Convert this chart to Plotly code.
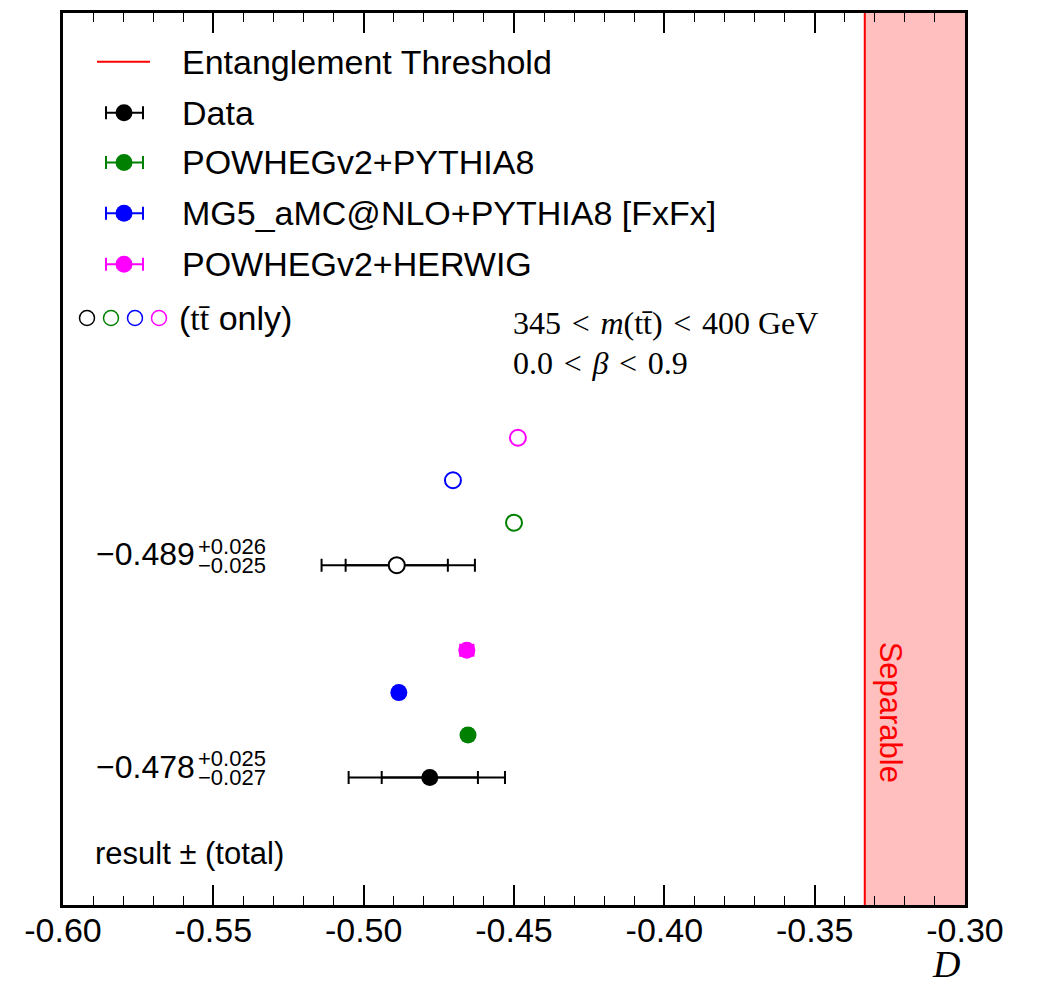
import plotly.graph_objects as go

# ---- values ---------------------------------------------------------------
x_tick_vals = [-0.60, -0.55, -0.50, -0.45, -0.40, -0.35, -0.30]
x_tick_text = ["-0.60", "-0.55", "-0.50", "-0.45", "-0.40", "-0.35", "-0.30"]

entanglement_threshold = -1.0 / 3.0

# measured D: full result and tt-only result
data_full = -0.478
data_full_up, data_full_dn = 0.025, 0.027
data_full_inner = 0.016
data_tt = -0.489
data_tt_up, data_tt_dn = 0.026, 0.025
data_tt_inner = 0.017

mc_names = ["POWHEGv2+PYTHIA8", "MG5_aMC@NLO+PYTHIA8 [FxFx]", "POWHEGv2+HERWIG"]
mc_colors = ["#008000", "#0000FF", "#FF00FF"]
mc_full = [-0.4653, -0.4883, -0.4657]
mc_full_err = [0.0015, 0.0015, 0.0022]
mc_tt = [-0.4500, -0.4703, -0.4487]
mc_tt_err = [0.0015, 0.0015, 0.0015]

# vertical slot of each row (full block below, tt-only block above)
full_slots = [3, 4, 5, 6]
tt_slots = [8, 9, 10, 11]

# ---- geometry helpers -----------------------------------------------------
W, H = 1039, 985
L, R, T, B = 63, 965, 10, 905
SANS = "Liberation Sans, Arial, Helvetica, sans-serif"
SERIF = "Liberation Serif, Times New Roman, serif"
SP = "\u2004"  # slightly wider space around relations


def px(xp):
    return (xp - L) / (R - L)


def py(yp):
    return (B - yp) / (B - T)


fig = go.Figure()

# ---- points ---------------------------------------------------------------
def add_point(x, y, up, dn, inner, color, filled, size):
    if inner is not None:
        fig.add_trace(go.Scatter(
            x=[x], y=[y], mode="markers",
            marker=dict(size=1, color="rgba(0,0,0,0)"),
            error_x=dict(type="data", symmetric=False, array=[inner], arrayminus=[inner],
                         color=color, thickness=2, width=6.5),
            showlegend=False, hoverinfo="skip"))
    marker = dict(size=size, color=color, line=dict(width=0)) if filled else \
        dict(size=size - 1, color="white", line=dict(color=color, width=2))
    fig.add_trace(go.Scatter(
        x=[x], y=[y], mode="markers", marker=marker,
        error_x=dict(type="data", symmetric=False, array=[up], arrayminus=[dn],
                     color=color, thickness=2, width=6.5),
        showlegend=False))


add_point(data_full, full_slots[0], data_full_up, data_full_dn, data_full_inner, "black", True, 17)
add_point(data_tt, tt_slots[0], data_tt_up, data_tt_dn, data_tt_inner, "black", False, 17)
for i in range(3):
    add_point(mc_full[i], full_slots[i + 1], mc_full_err[i], mc_full_err[i], None, mc_colors[i], True, 17)
    add_point(mc_tt[i], tt_slots[i + 1], mc_tt_err[i], mc_tt_err[i], None, mc_colors[i], False, 17)

shapes = []
annotations = []


def label(x, y, text, size, family=SANS, color="black", xanchor="left", yanchor="middle", **kw):
    annotations.append(dict(xref="paper", yref="paper", x=x, y=y, text=text, showarrow=False,
                            xanchor=xanchor, yanchor=yanchor,
                            font=dict(family=family, size=size, color=color), **kw))


# separable region and entanglement threshold
shapes.append(dict(type="rect", xref="x", yref="paper", x0=entanglement_threshold, x1=-0.30,
                   y0=0, y1=1, fillcolor="rgba(255,0,0,0.25)", line=dict(width=0), layer="below"))
shapes.append(dict(type="line", xref="x", yref="paper", x0=entanglement_threshold,
                   x1=entanglement_threshold, y0=0, y1=1, line=dict(color="red", width=2)))
label(px(890), py(711), "Separable", 31, color="red", xanchor="center", textangle=90)

# ---- legend ---------------------------------------------------------------
LEG_X = 180
shapes.append(dict(type="line", xref="paper", yref="paper", x0=px(97), x1=px(150),
                   y0=py(59), y1=py(59), line=dict(color="red", width=2)))
label(px(LEG_X), py(59), "Entanglement Threshold", 34)

leg_rows = [110, 160, 211, 262]
leg_names = ["Data"] + mc_names
leg_colors = ["black"] + mc_colors
for yy, name, col in zip(leg_rows, leg_names, leg_colors):
    shapes.append(dict(type="line", xref="paper", yref="paper", x0=px(106), x1=px(143),
                       y0=py(yy), y1=py(yy), line=dict(color=col, width=2)))
    for xc in (106, 143):
        shapes.append(dict(type="line", xref="paper", yref="paper", x0=px(xc), x1=px(xc),
                           y0=py(yy - 6.5), y1=py(yy + 6.5), line=dict(color=col, width=2)))
    shapes.append(dict(type="circle", xref="paper", yref="paper", x0=px(124 - 8.5), x1=px(124 + 8.5),
                       y0=py(yy + 8.5), y1=py(yy - 8.5), fillcolor=col, line=dict(width=0)))
    label(px(LEG_X), py(yy), name, 34)

# open-marker key
for xc, col in zip([87, 111, 135, 159], leg_colors):
    shapes.append(dict(type="circle", xref="paper", yref="paper", x0=px(xc - 7.5), x1=px(xc + 7.5),
                       y0=py(316 + 7.5), y1=py(316 - 7.5), fillcolor="white",
                       line=dict(color=col, width=1.5)))
label(px(177), py(316), "(<span style='font-family:Liberation Serif'>tt\u0304</span> only)", 34)

# phase-space labels
label(px(511), py(321), f"345{SP}<{SP}<i>m</i>(tt\u0304){SP}<{SP}400 GeV", 32, family=SERIF)
label(px(511), py(361), f"0.0{SP}<{SP}<i>\u03b2</i>{SP}<{SP}0.9", 32, family=SERIF)


# ---- result labels --------------------------------------------------------
def fmt(v):
    return ("\u2212" if v < 0 else "") + f"{abs(v):.3f}"


for val, up, dn, slot in [(data_tt, data_tt_up, data_tt_dn, tt_slots[0]),
                          (data_full, data_full_up, data_full_dn, full_slots[0])]:
    for xx, shift, txt, size in [(94, 11, fmt(val), 32),
                                 (196, 19, "+" + f"{up:.3f}", 22),
                                 (196, 0, "\u2212" + f"{dn:.3f}", 22)]:
        annotations.append(dict(xref="paper", yref="y", x=px(xx), y=slot, yshift=shift,
                                xanchor="left", yanchor="middle", text=txt, showarrow=False,
                                font=dict(family=SANS, size=size, color="black")))

label(px(93), py(853), "result \u00b1 (total)", 31)

# axis title
label(px(946), py(964), "<i>D</i>", 38, family=SERIF, xanchor="center")

# header (mostly above the visible page)
label(0, py(-1), "<b>CMS</b> <i>Supplementary</i>", 35, yanchor="bottom")
label(px(962), py(-1), "138 fb<sup>\u22121</sup> (13 TeV)", 35, xanchor="right", yanchor="bottom")

fig.update_layout(
    width=W, height=H,
    margin=dict(l=L, r=W - R, t=T, b=H - B, pad=0),
    paper_bgcolor="white", plot_bgcolor="white",
    shapes=shapes, annotations=annotations,
    showlegend=False,
    xaxis=dict(range=[-0.60, -0.30], tickvals=x_tick_vals, ticktext=x_tick_text,
               ticks="inside", ticklen=20, tickwidth=1.5, tickcolor="black",
               minor=dict(ticks="inside", ticklen=9, dtick=0.01, tickwidth=1, tickcolor="black"),
               showline=True, linewidth=3, linecolor="black", mirror="allticks",
               showgrid=False, zeroline=False, ticklabelstandoff=-7,
               tickfont=dict(family=SANS, size=34, color="black")),
    yaxis=dict(range=[0, 21], showticklabels=False, ticks="", showline=True, linewidth=3,
               linecolor="black", mirror=True, showgrid=False, zeroline=False),
)

fig.write_html("out.html")
